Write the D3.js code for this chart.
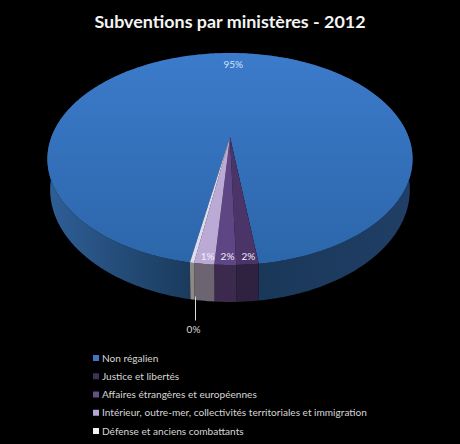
<!DOCTYPE html>
<html>
<head>
<meta charset="utf-8">
<script src="https://cdn.jsdelivr.net/npm/d3@7"></script>
<style>
  html, body { margin: 0; background: #000; }
  svg { display: block; }
  text { font-family: Lato, sans-serif; }
</style>
</head>
<body>
<div id="chart"></div>
<script>
const categories = [
  "Non régalien",
  "Justice et libertés",
  "Affaires étrangères et européennes",
  "Intérieur, outre-mer, collectivités territoriales et immigration",
  "Défense et anciens combattants"
];
const values = [95.1, 1.6, 1.55, 1.45, 0.3];
const chartTitle = "Subventions par ministères - 2012";

const topColors = ["#3674bf", "#4a3468", "#5e4684", "#bcaad6", "#dcdcf2"];
const wallColors = ["#1f4268", "#2f2140", "#3b2a4e", "#6c6470", "#8b8a84"];
const swatchColors = ["#4472c4", "#3b3355", "#65507f", "#b4a7d6", "#f2f2f2"];

const width = 460, height = 444;
const cx = 230, radius = 178.6;
const depth = 37;

const svg = d3.select("#chart").append("svg")
  .attr("width", width)
  .attr("height", height)
  .style("background", "#000");

const defs = svg.append("defs");

const blue = defs.append("linearGradient")
  .attr("id", "blue-top")
  .attr("x1", 0).attr("x2", 0).attr("y1", 0).attr("y2", 1);
blue.append("stop").attr("offset", "0%").attr("stop-color", "#3c7bcb");
blue.append("stop").attr("offset", "100%").attr("stop-color", "#2c66aa");

const blueWall = defs.append("linearGradient")
  .attr("id", "blue-wall")
  .attr("gradientUnits", "userSpaceOnUse")
  .attr("x1", 47).attr("x2", 412).attr("y1", 0).attr("y2", 0);
blueWall.append("stop").attr("offset", "0%").attr("stop-color", "#2f5f97");
blueWall.append("stop").attr("offset", "45%").attr("stop-color", "#173554");
blueWall.append("stop").attr("offset", "100%").attr("stop-color", "#213f66");

// perspective of the disc: v runs from -1 (back) to 1 (front)
const C = -0.2075;
function project(angle, r, lower) {
  const u = Math.sin(angle) * r, v = -Math.cos(angle) * r;
  const w = 1 + C * v;
  const y = (73 * v + 137) / w;
  const drop = lower ? depth * (1 + C) / w : 0;
  return [cx + radius * (lower ? 0.985 : 1) * u / w, y + drop];
}

const pie = d3.pie().sort(null)
  .startAngle(-169.7 * Math.PI / 180)
  .endAngle(190.3 * Math.PI / 180);
const arcs = pie(values);

function arcAngles(d) {
  const n = Math.max(2, Math.ceil((d.endAngle - d.startAngle) * 60));
  return d3.range(n + 1).map(i => d.startAngle + (d.endAngle - d.startAngle) * i / n);
}

const line = d3.line();

// walls first, the top faces cover whatever part sits behind
svg.append("g")
  .selectAll("path")
  .data(arcs)
  .join("path")
  .attr("d", d => {
    const a = arcAngles(d);
    return line(a.map(t => project(t, 1, false)).concat(a.slice().reverse().map(t => project(t, 1, true)))) + "Z";
  })
  .attr("fill", (d, i) => i === 0 ? "url(#blue-wall)" : wallColors[i]);

svg.append("g")
  .selectAll("path")
  .data(arcs)
  .join("path")
  .attr("d", d => line([[cx, 137]].concat(arcAngles(d).map(t => project(t, 1, false)))) + "Z")
  .attr("fill", (d, i) => i === 0 ? "url(#blue-top)" : topColors[i]);

// data labels
const fmt = v => d3.format(".0f")(v) + "%";
const mid = d => (d.startAngle + d.endAngle) / 2;

svg.append("g")
  .attr("font-size", 10)
  .attr("text-anchor", "middle")
  .selectAll("text")
  .data(arcs.slice(0, 4))
  .join("text")
  .attr("x", (d, i) => project(mid(d), i === 0 ? 0.84 : 0.95, false)[0])
  .attr("y", (d, i) => project(mid(d), i === 0 ? 0.84 : 0.95, false)[1])
  .attr("dx", (d, i) => i === 0 ? -0 : 2)
  .attr("dy", "0.35em")
  .attr("fill", (d, i) => i === 0 ? "#cfe2f7" : "#f2eef8")
  .text(d => fmt(d.value));

// leader for the smallest slice
const last = arcs[4];
const lead = project(mid(last), 1, true);
svg.append("line")
  .attr("x1", lead[0] + 3).attr("x2", lead[0] + 3)
  .attr("y1", lead[1] - 3).attr("y2", lead[1] + 21)
  .attr("stroke", "#d8d8d8");
svg.append("text")
  .attr("x", lead[0] + 1)
  .attr("y", lead[1] + 30)
  .attr("dy", "0.35em")
  .attr("text-anchor", "middle")
  .attr("font-size", 10)
  .attr("fill", "#d9d9d9")
  .text(fmt(last.value));

// title
svg.append("text")
  .attr("x", cx)
  .attr("y", 28)
  .attr("text-anchor", "middle")
  .attr("font-size", 17.9)
  .attr("font-weight", 700)
  .attr("fill", "#f4f4f4")
  .text(chartTitle);

// legend
const legendY = d3.scalePoint().domain(categories).range([358, 431]);
const legend = svg.append("g")
  .selectAll("g")
  .data(categories)
  .join("g")
  .attr("transform", d => `translate(93,${legendY(d)})`);
legend.append("rect")
  .attr("y", -3)
  .attr("width", 6)
  .attr("height", 6)
  .attr("fill", (d, i) => swatchColors[i]);
legend.append("text")
  .attr("x", 9)
  .attr("dy", "0.35em")
  .attr("font-size", 10.1)
  .attr("fill", "#d6d6d6")
  .text(d => d);
</script>
</body>
</html>
